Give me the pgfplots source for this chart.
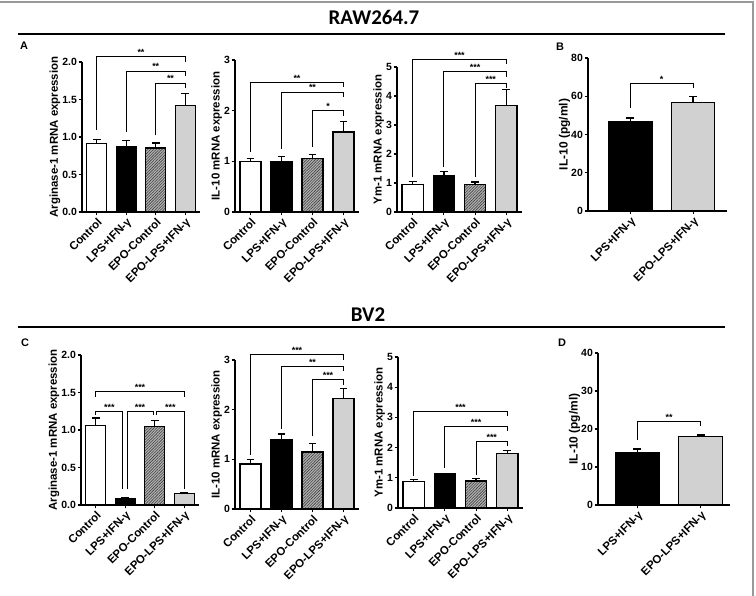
\documentclass[border=0pt]{standalone}
\usepackage{fontspec}
\setmainfont{Liberation Sans}
\newfontfamily\headfont{Carlito}
\usepackage{pgfplots}
\pgfplotsset{compat=1.18}
\usetikzlibrary{patterns.meta}

\newcommand\fs[1]{\fontsize{#1}{#1}\selectfont}

% significance bracket: x1, x2, bracket height, left arm end, right arm end, label x, label
\newcommand\sig[7]{%
  \draw[line width=0.8pt] (axis cs:#1,#4) -- (axis cs:#1,#3) -- (axis cs:#2,#3) -- (axis cs:#2,#5);
  \node[anchor=south,inner sep=0.8pt,font=\bfseries\fs{9}] at (axis cs:#6,#3) {#7};
}

\pgfplotsset{
  prism/.style={
    scale only axis,
    axis lines=left,
    axis line style={line width=1.4pt,-},
    every tick/.style={black,line width=1.1pt},
    tick align=outside,
    major tick length=3.5pt,
    ymin=0,
    xmin=-0.5, xmax=3.5,
    xtick={0,1,2,3},
    xticklabels={Control,LPS+IFN-γ,EPO-Control,EPO-LPS+IFN-γ},
    x tick label style={rotate=45,anchor=north east,inner sep=1pt,font=\bfseries\fs{11.5}},
    y tick label style={font=\bfseries\fs{10.5},inner sep=1.5pt},
    /pgf/number format/assume math mode=true,
    ylabel style={font=\bfseries\fs{11.5}},
    ylabel shift=-3bp,
    clip=false,
    ybar, bar width=0.68,
  },
  pair/.style={
    prism,
    xtick={0,1},
    xticklabels={LPS+IFN-γ,EPO-LPS+IFN-γ},
    bar width=0.69,
    ylabel={IL-10 (pg/ml)},
    ylabel style={font=\bfseries\fs{12}},
    ylabel shift=-4bp,
  },
  gbar/.style={bar shift=0pt, draw=black, line width=1.3pt,
    error bars/y dir=plus, error bars/y explicit,
    error bars/error bar style={line width=1.3pt, black},
    error bars/error mark options={rotate=90, mark size=4pt, line width=1.3pt, black}},
  cw/.style={gbar, fill=white},
  ck/.style={gbar, fill=black},
  ch/.style={gbar, fill=black!30,
    postaction={pattern={Lines[angle=45,distance=2pt,line width=0.6pt]},pattern color=black!75}},
  cg/.style={gbar, fill=black!18},
}

\begin{document}
\begin{tikzpicture}
\useasboundingbox (0,0) rectangle (756bp,596bp);
\draw[black!40, line width=1.2pt] (0,594bp) -- (753bp,594bp) -- (753bp,0);

% headings
\node[font=\headfont\bfseries\fs{21}] at (374bp,579bp) {RAW264.7};
\draw[line width=2pt] (18bp,562bp) -- (725bp,562bp);
\node[font=\headfont\bfseries\fs{21}] at (368bp,281bp) {BV2};
\draw[line width=2pt] (18bp,269bp) -- (725bp,269bp);

\node[font=\bfseries\fs{11}] at (24bp,550bp) {A};
\node[font=\bfseries\fs{11}] at (560bp,549bp) {B};
\node[font=\bfseries\fs{11}] at (25bp,253bp) {C};
\node[font=\bfseries\fs{11}] at (562bp,253bp) {D};

% ---------- RAW264.7: Arginase-1 ----------
\begin{axis}[prism, at={(82bp,384bp)}, anchor=south west, width=118bp, height=150bp,
  ymax=2, ytick={0,0.5,...,2},
  yticklabel style={/pgf/number format/.cd,fixed,fixed zerofill,precision=1},
  ylabel={Arginase-1 mRNA expression}]
\addplot[cw] coordinates {(0,0.91) +- (0,0.06)};
\addplot[ck] coordinates {(1,0.876) +- (0,0.074)};
\addplot[ch] coordinates {(2,0.853) +- (0,0.067)};
\addplot[cg] coordinates {(3,1.418) +- (0,0.162)};
\sig{0}{3}{2.07}{1.09}{2.0}{1.5}{**}
\sig{1}{3}{1.88}{1.07}{1.81}{2}{**}
\sig{2}{3}{1.72}{1.02}{1.65}{2.5}{**}
\end{axis}

% ---------- RAW264.7: IL-10 ----------
\begin{axis}[prism, at={(235bp,384bp)}, anchor=south west, width=124bp, height=152bp,
  ymax=3, ytick={0,1,2,3},
  ylabel={IL-10 mRNA expression}]
\addplot[cw] coordinates {(0,1.0) +- (0,0.05)};
\addplot[ck] coordinates {(1,1.0) +- (0,0.1)};
\addplot[ch] coordinates {(2,1.05) +- (0,0.09)};
\addplot[cg] coordinates {(3,1.58) +- (0,0.2)};
\sig{0}{3}{2.56}{1.19}{2.46}{1.5}{**}
\sig{1}{3}{2.37}{1.25}{2.27}{2}{**}
\sig{2}{3}{2.0}{1.29}{1.89}{2.5}{*}
\end{axis}

% ---------- RAW264.7: Ym-1 ----------
\begin{axis}[prism, at={(397bp,384bp)}, anchor=south west, width=125bp, height=145bp,
  ymax=5, ytick={0,1,2,3,4,5},
  ylabel={Ym-1 mRNA expression}]
\addplot[cw] coordinates {(0,0.95) +- (0,0.1)};
\addplot[ck] coordinates {(1,1.26) +- (0,0.14)};
\addplot[ch] coordinates {(2,0.94) +- (0,0.09)};
\addplot[cg] coordinates {(3,3.67) +- (0,0.55)};
\sig{0}{3}{5.26}{1.2}{5.1}{1.5}{***}
\sig{1}{3}{4.84}{1.55}{4.66}{2}{***}
\sig{2}{3}{4.42}{1.2}{4.28}{2.5}{***}
\end{axis}

% ---------- RAW264.7: secreted IL-10 ----------
\begin{axis}[pair, at={(588bp,385bp)}, anchor=south west, width=139bp, height=153bp,
  xmin=-0.675, xmax=1.54, ymax=80, ytick={0,20,40,60,80}]
\addplot[ck] coordinates {(0,46.5) +- (0,2.2)};
\addplot[cg] coordinates {(1,56.9) +- (0,3.0)};
\sig{0}{1}{66.5}{53.8}{64.3}{0.5}{*}
\end{axis}

% ---------- BV2: Arginase-1 ----------
\begin{axis}[prism, at={(81bp,91bp)}, anchor=south west, width=118bp, height=150bp,
  ymax=2, ytick={0,0.5,...,2},
  yticklabel style={/pgf/number format/.cd,fixed,fixed zerofill,precision=1},
  ylabel={Arginase-1 mRNA expression}]
\addplot[cw] coordinates {(0,1.06) +- (0,0.1)};
\addplot[ck] coordinates {(1,0.09) +- (0,0.01)};
\addplot[ch] coordinates {(2,1.05) +- (0,0.08)};
\addplot[cg] coordinates {(3,0.156) +- (0,0.01)};
\sig{0}{3}{1.51}{1.44}{1.44}{1.5}{***}
\sig{0}{0.92}{1.25}{1.2}{0.21}{0.46}{***}
\sig{1.08}{1.95}{1.25}{0.21}{1.2}{1.5}{***}
\sig{2.05}{3}{1.25}{1.2}{0.21}{2.53}{***}
\end{axis}

% ---------- BV2: IL-10 ----------
\begin{axis}[prism, at={(235bp,87bp)}, anchor=south west, width=124bp, height=149bp,
  ymax=3, ytick={0,1,2,3},
  ylabel={IL-10 mRNA expression}]
\addplot[cw] coordinates {(0,0.906) +- (0,0.085)};
\addplot[ck] coordinates {(1,1.39) +- (0,0.12)};
\addplot[ch] coordinates {(2,1.15) +- (0,0.17)};
\addplot[cg] coordinates {(3,2.23) +- (0,0.19)};
\sig{0}{3}{3.12}{1.09}{3.01}{1.5}{***}
\sig{1}{3}{2.87}{1.62}{2.77}{2}{**}
\sig{2}{3}{2.6}{1.46}{2.5}{2.5}{***}
\end{axis}

% ---------- BV2: Ym-1 ----------
\begin{axis}[prism, at={(398bp,88bp)}, anchor=south west, width=125bp, height=151bp,
  ymax=5, ytick={0,1,2,3,4,5},
  ylabel={Ym-1 mRNA expression}]
\addplot[cw] coordinates {(0,0.87) +- (0,0.07)};
\addplot[ck] coordinates {(1,1.13) +- (0,0.02)};
\addplot[ch] coordinates {(2,0.89) +- (0,0.09)};
\addplot[cg] coordinates {(3,1.8) +- (0,0.11)};
\sig{0}{3}{3.2}{1.06}{3.05}{1.5}{***}
\sig{1}{3}{2.7}{1.34}{2.55}{2}{***}
\sig{2}{3}{2.2}{1.1}{2.05}{2.5}{***}
\end{axis}

% ---------- BV2: secreted IL-10 ----------
\begin{axis}[pair, at={(598bp,91bp)}, anchor=south west, width=132bp, height=152bp,
  xmin=-0.625, xmax=1.465, ymax=40, ytick={0,10,20,30,40}]
\addplot[ck] coordinates {(0,13.8) +- (0,0.9)};
\addplot[cg] coordinates {(1,18.0) +- (0,0.4)};
\sig{0}{1}{21.9}{17.1}{20.8}{0.5}{**}
\end{axis}
\end{tikzpicture}
\end{document}
